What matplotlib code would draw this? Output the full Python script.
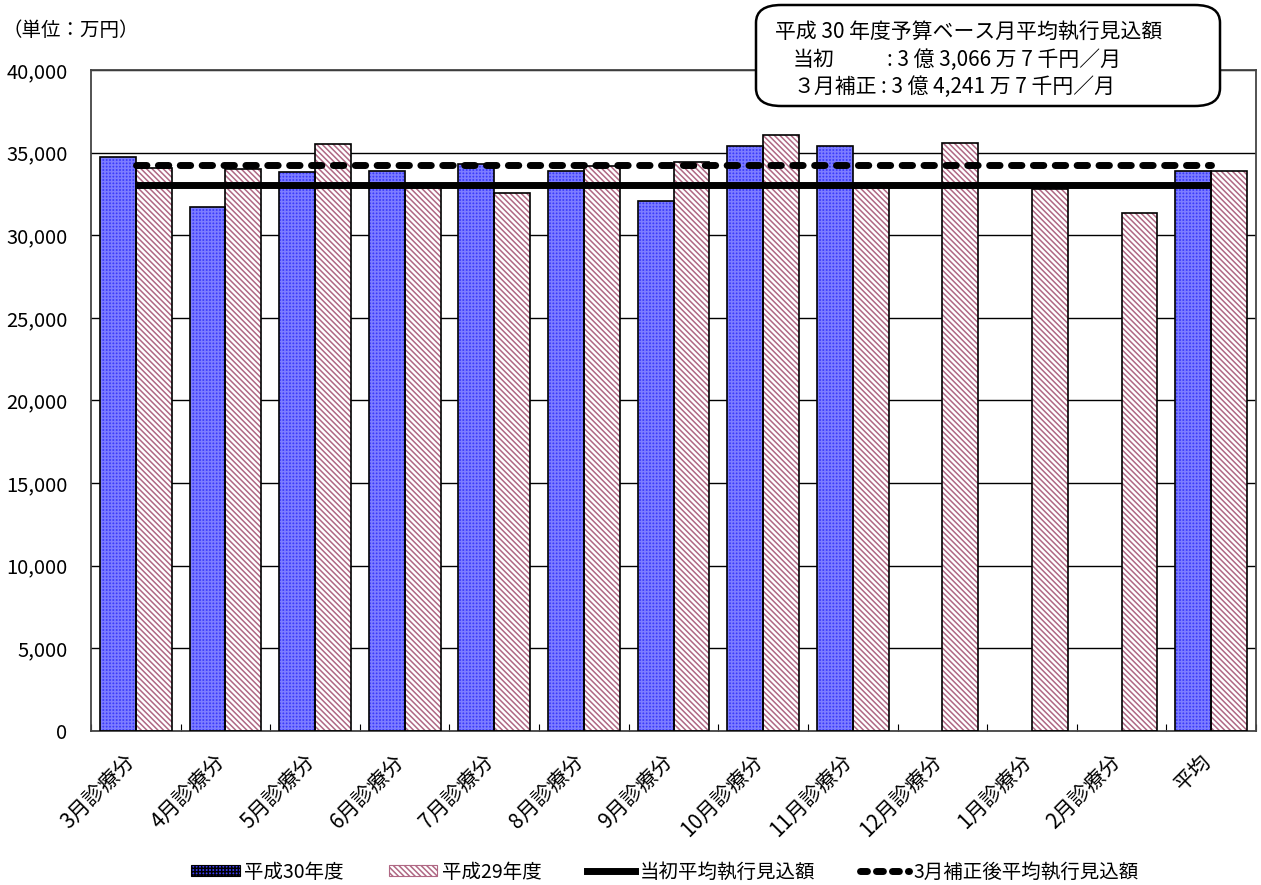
import matplotlib
matplotlib.use("Agg")
import matplotlib.pyplot as plt
import numpy as np
from matplotlib.patches import FancyBboxPatch, Patch
from matplotlib.lines import Line2D

plt.rcParams['font.family'] = ['Noto Sans CJK JP', 'DejaVu Sans']
plt.rcParams['hatch.linewidth'] = 1.1

categories = ["3月診療分", "4月診療分", "5月診療分", "6月診療分", "7月診療分", "8月診療分",
              "9月診療分", "10月診療分", "11月診療分", "12月診療分", "1月診療分", "2月診療分", "平均"]
h30 = [34750, 31710, 33810, 33910, 34290, 33910, 32090, 35380, 35420, np.nan, np.nan, np.nan, 33890]
h29 = [34090, 34010, 35500, 32950, 32540, 34210, 34450, 36050, 32950, 35580, 32800, 31330, 33910]
initial_avg = 33066.7
revised_avg = 34241.7
series_names = ["平成30年度", "平成29年度", "当初平均執行見込額", "3月補正後平均執行見込額"]
yticks = [0, 5000, 10000, 15000, 20000, 25000, 30000, 35000, 40000]

fig = plt.figure(figsize=(12.61, 8.85), dpi=100)
ax = fig.add_axes([91/1261, 1-731/885, (1256-91)/1261, (731-70)/885])

x = np.arange(len(categories))
w = 0.4
blue = '#3C3CFA'
blue_h = '#7C7CFF'
pink_h = '#B06884'
pink_hatch = '\\' * 6
dash_style = (0, (1.5, 1.65))

# hatched fills
ax.bar(x - w/2, h30, w, color=blue, edgecolor=blue_h, hatch='+++++', linewidth=0, zorder=2)
ax.bar(x + w/2, h29, w, color='white', edgecolor=pink_h, hatch=pink_hatch, linewidth=0, zorder=2)
# outlines
ax.bar(x - w/2, h30, w, fill=False, edgecolor='black', linewidth=1.2, zorder=3)
ax.bar(x + w/2, h29, w, fill=False, edgecolor='black', linewidth=1.2, zorder=3)

ax.plot([x[0], x[-1]], [initial_avg, initial_avg], color='black', lw=5, solid_capstyle='butt', zorder=4)
ax.plot([x[0], x[-1]], [revised_avg, revised_avg], color='black', lw=5, linestyle=dash_style,
        dash_capstyle='round', zorder=4)

ax.set_xlim(-0.5, len(categories) - 0.5)
ax.set_ylim(0, 40000)
ax.set_yticks(yticks)
ax.set_yticklabels([f"{v:,}" for v in yticks], fontsize=14.5)
ax.yaxis.grid(True, color='black', linewidth=1.0, zorder=0)
ax.set_axisbelow(True)
ax.tick_params(axis='y', length=0, pad=17)
ax.set_xticks(np.arange(len(categories) + 1) - 0.5, minor=False)
ax.set_xticklabels([])
ax.tick_params(axis='x', direction='in', length=5)
for xi, lab in zip(x, categories):
    ax.text(xi - 0.04, -1650, lab, rotation=45, ha='right', va='center', rotation_mode='anchor',
            fontsize=15)
for s in ax.spines.values():
    s.set_color('#444444')
    s.set_linewidth(1.3)

fig.text(3/1261, 1-30/885, "（単位：万円）", fontsize=14, va='center', ha='left')

box = FancyBboxPatch((756/1261, 1-106/885), (1220-756)/1261, (106-5)/885,
                     boxstyle="round,pad=0,rounding_size=0.02", transform=fig.transFigure,
                     facecolor='white', edgecolor='black', linewidth=1.8, zorder=10)
fig.add_artist(box)
fs_box = 15
fig.text(775/1261, 1-32/885, "平成 30 年度予算ベース月平均執行見込額", fontsize=fs_box, va='center', zorder=11)
fig.text(793/1261, 1-60/885, "当初", fontsize=fs_box, va='center', zorder=11)
fig.text(887/1261, 1-60/885, ": 3 億 3,066 万 7 千円／月", fontsize=fs_box, va='center', zorder=11)
fig.text(793/1261, 1-87/885, "３月補正", fontsize=fs_box, va='center', zorder=11)
fig.text(881/1261, 1-87/885, ": 3 億 4,241 万 7 千円／月", fontsize=fs_box, va='center', zorder=11)

handles = [Patch(facecolor=blue, edgecolor='black', hatch='+++++', linewidth=0.8),
           Patch(facecolor='white', edgecolor=pink_h, hatch=pink_hatch, linewidth=0.8),
           Line2D([0], [0], color='black', lw=5),
           Line2D([0], [0], color='black', lw=5, linestyle=(0, (1.0, 1.3)), dash_capstyle='round')]
fig.legend(handles, series_names, loc='center', bbox_to_anchor=(665/1261, 1-872/885), ncol=4,
           frameon=False, fontsize=14, handlelength=2.5, handleheight=0.5, handletextpad=0.25,
           columnspacing=2.3)

fig.savefig("out.png", dpi=100)
